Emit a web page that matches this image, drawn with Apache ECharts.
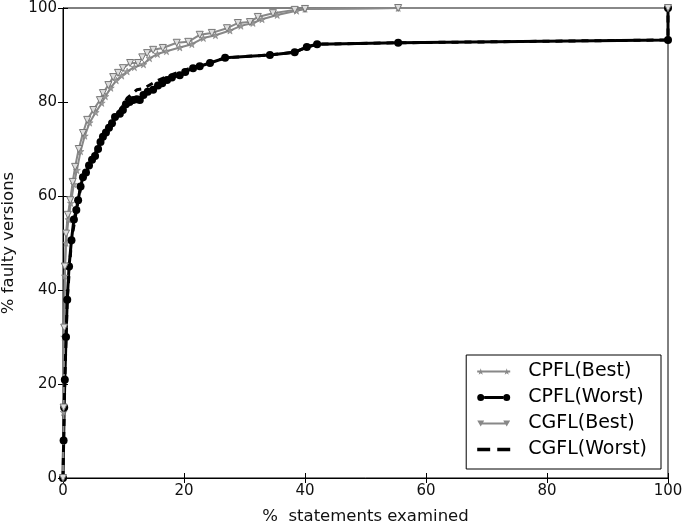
<!DOCTYPE html>
<html>
<head>
<meta charset="utf-8">
<script src="https://cdn.jsdelivr.net/npm/echarts@6/dist/echarts.min.js"></script>
<style>
  html, body { margin: 0; padding: 0; background: #fff; }
  #chart { width: 685px; height: 523px; }
</style>
</head>
<body>
<div id="chart"></div>
<script>
// 曲线数据 (x: % statements examined, y: % faulty versions)
const cpflBestX = [0, 0.1, 0.2, 0.3, 0.5, 0.9, 1.3, 1.8, 2.3, 2.9, 3.6, 4.4, 5.4, 6.4, 7.0, 7.9, 8.8, 9.7, 10.6, 11.8, 13.3, 14.3, 15.6, 17.1, 19.3, 21.3, 23.2, 25.2, 27.6, 29.4, 31.4, 32.9, 35.4, 38.6, 40.0, 55.4, 100]
const cpflBestY = [0, 14, 30, 43, 50, 55, 58.5, 62.5, 65.5, 69.5, 72.8, 75.6, 77.8, 79.8, 81.2, 83.0, 84.6, 85.6, 86.5, 87.4, 88.0, 89.3, 90.2, 90.8, 91.6, 92.3, 93.6, 94.2, 95.2, 96.2, 96.8, 97.6, 98.5, 99.4, 99.8, 100, 100]

const cpflWorstX = [0, 0.1, 0.2, 0.3, 0.5, 0.7, 1.0, 1.4, 1.8, 2.2, 2.5, 2.9, 3.3, 3.8, 4.3, 4.8, 5.3, 5.8, 6.2, 6.6, 7.1, 7.6, 8.1, 8.6, 9.4, 9.9, 10.4, 11.0, 11.6, 12.2, 12.7, 13.3, 14.0, 14.9, 15.7, 16.4, 17.2, 18.0, 19.3, 20.2, 21.5, 22.6, 24.3, 26.8, 34.2, 38.3, 40.3, 42.0, 55.4, 100, 100]
const cpflWorstY = [0, 8, 15, 20.9, 30, 37.9, 45, 50.6, 55, 57, 59.1, 62, 64.0, 65, 66.5, 67.7, 68.5, 70, 71.5, 72.6, 73.5, 74.5, 75.5, 76.8, 77.5, 78.3, 79.5, 80, 80.4, 80.6, 80.4, 81.5, 82.2, 82.6, 83.5, 84, 84.7, 85.2, 85.7, 86.4, 87.2, 87.6, 88.3, 89.4, 90.0, 90.6, 91.7, 92.3, 92.6, 93.2, 100]

const cgflBestX = [0, 0.1, 0.2, 0.3, 0.5, 0.8, 1.2, 1.6, 2.0, 2.6, 3.3, 4.0, 5.0, 6.1, 6.6, 7.5, 8.3, 9.1, 9.9, 11.1, 12.4, 13.1, 13.9, 14.9, 16.5, 18.8, 20.7, 22.6, 24.6, 27.1, 28.9, 30.9, 32.2, 34.7, 38.3, 40.0, 55.4, 100]
const cgflBestY = [0, 15, 32, 45, 52, 56, 59.1, 63, 66.2, 70, 73.4, 76.2, 78.3, 80.4, 81.9, 83.6, 85.3, 86.2, 87.2, 88.3, 88.3, 89.5, 90.4, 91.1, 91.5, 92.6, 92.8, 94.3, 94.7, 95.7, 96.8, 97.0, 98.1, 98.9, 99.6, 99.8, 100, 100]

const cgflWorstX = [0, 0.3, 0.7, 1.4, 2.5, 3.3, 4.8, 6.6, 8.6, 9.9, 10.6, 12.2, 13.2, 15.5, 17.5, 19.3, 21.5, 24.3, 26.8, 34.2, 38.3, 40.3, 42.0, 55.4, 100, 100]
const cgflWorstY = [0, 20.9, 37.9, 50.6, 59.1, 64.0, 67.7, 72.6, 76.8, 79.2, 80.8, 82.6, 82.8, 84.5, 85.6, 86.4, 87.4, 88.3, 89.4, 90.0, 90.6, 91.7, 92.3, 92.6, 93.2, 100]

const seriesNames = ['CPFL(Best)', 'CPFL(Worst)', 'CGFL(Best)', 'CGFL(Worst)']

const pairs = (xs, ys) => xs.map((x, i) => [x, ys[i]])
const star = 'path://M50,0 L61,35 L98,35 L68,57 L79,91 L50,70 L21,91 L32,57 L2,35 L39,35 Z'

// 图例图标: 线段两端带标记 (matplotlib 风格)
const iconStar = 'path://M3.5,3.8 L4.27,6.25 L6.86,6.25 L4.76,7.79 L5.53,10.17 L3.5,8.7 L1.47,10.17 L2.24,7.79 L0.14,6.25 L2.73,6.25 Z' +
  ' M29.5,3.8 L30.27,6.25 L32.86,6.25 L30.76,7.79 L31.53,10.17 L29.5,8.7 L27.47,10.17 L28.24,7.79 L26.14,6.25 L28.73,6.25 Z' +
  ' M0,6 L33,6 L33,8 L0,8 Z'
const iconCircle = 'path://M0,7 A3.5,3.5 0 1,1 7,7 A3.5,3.5 0 1,1 0,7 Z M26,7 A3.5,3.5 0 1,1 33,7 A3.5,3.5 0 1,1 26,7 Z M7,5.5 L26,5.5 L26,8.5 L7,8.5 Z'
const iconTri = 'path://M0,4 L7,4 L3.5,10 Z M26,4 L33,4 L29.5,10 Z M3,6 L30,6 L30,8 L3,8 Z'
const iconDash = 'path://M0,5.5 L11,5.5 L11,8.5 L0,8.5 Z M17,5.5 L28,5.5 L28,8.5 L17,8.5 Z'

const tickFont = { fontFamily: 'DejaVu Sans', fontSize: 15, color: '#111' }
const nameFont = { fontFamily: 'DejaVu Sans', fontSize: 16.5, color: '#111' }

const chart = echarts.init(document.getElementById('chart'))
const option = {
  animation: false,
  backgroundColor: '#fff',
  grid: {
    left: 63, right: 17, top: 8, bottom: 45,
    outerBoundsMode: 'none',
    show: true, borderColor: '#000', borderWidth: 1
  },
  legend: {
    orient: 'vertical',
    right: 24,
    bottom: 54,
    data: [
      { name: seriesNames[0], icon: iconStar, itemStyle: { color: '#888', borderWidth: 0 } },
      { name: seriesNames[1], icon: iconCircle, itemStyle: { color: '#000' } },
      { name: seriesNames[2], icon: iconTri, itemStyle: { color: '#888', borderWidth: 0 } },
      { name: seriesNames[3], icon: iconDash, itemStyle: { color: '#000' } }
    ],
    itemWidth: 33,
    itemHeight: 14,
    itemGap: 7,
    padding: [7, 14, 10, 11],
    borderColor: '#000',
    borderWidth: 1,
    backgroundColor: '#fff',
    textStyle: { fontFamily: 'DejaVu Sans', fontSize: 19, color: '#000', padding: [0, 0, 0, 13] }
  },
  xAxis: [
    {
      type: 'value', min: 0, max: 100, interval: 20,
      name: '%  statements examined', nameLocation: 'middle', nameGap: 30,
      nameTextStyle: nameFont,
      axisLine: { lineStyle: { color: '#000' } },
      axisTick: { inside: true, length: 5, lineStyle: { color: '#000' } },
      axisLabel: Object.assign({ margin: 6 }, tickFont),
      splitLine: { show: false }
    },
    {
      type: 'value', min: 0, max: 100, interval: 20, position: 'top',
      axisLine: { lineStyle: { color: '#000' } },
      axisTick: { inside: true, length: 5, lineStyle: { color: '#000' } },
      axisLabel: { show: false }, splitLine: { show: false }
    }
  ],
  yAxis: [
    {
      type: 'value', min: 0, max: 100, interval: 20,
      name: '% faulty versions', nameLocation: 'middle', nameGap: 39,
      nameTextStyle: nameFont,
      axisLine: { show: true, lineStyle: { color: '#000' } },
      axisTick: { show: true, inside: true, length: 5, lineStyle: { color: '#000' } },
      axisLabel: Object.assign({ margin: 6 }, tickFont),
      splitLine: { show: false }
    },
    {
      type: 'value', min: 0, max: 100, interval: 20, position: 'right',
      axisLine: { show: true, lineStyle: { color: '#000' } },
      axisTick: { show: true, inside: true, length: 5, lineStyle: { color: '#000' } },
      axisLabel: { show: false }, splitLine: { show: false }
    }
  ],
  series: [
    {
      name: seriesNames[0], type: 'line', data: pairs(cpflBestX, cpflBestY),
      symbol: star, symbolSize: 7,
      lineStyle: { color: '#888', width: 2 },
      itemStyle: { color: '#999', borderColor: '#777', borderWidth: 0.5 }
    },
    {
      name: seriesNames[1], type: 'line', data: pairs(cpflWorstX, cpflWorstY),
      symbol: 'circle', symbolSize: 8,
      lineStyle: { color: '#000', width: 3 },
      itemStyle: { color: '#000' }
    },
    {
      name: seriesNames[2], type: 'line', data: pairs(cgflBestX, cgflBestY),
      symbol: 'triangle', symbolRotate: 180, symbolSize: 7,
      lineStyle: { color: '#888', width: 2 },
      itemStyle: { color: '#ddd', borderColor: '#777', borderWidth: 1 }
    },
    {
      name: seriesNames[3], type: 'line', data: pairs(cgflWorstX, cgflWorstY),
      symbol: 'none',
      lineStyle: { color: '#000', width: 3, type: [7, 6] },
      itemStyle: { color: '#000' }
    }
  ]
}
chart.setOption(option)
</script>
</body>
</html>
